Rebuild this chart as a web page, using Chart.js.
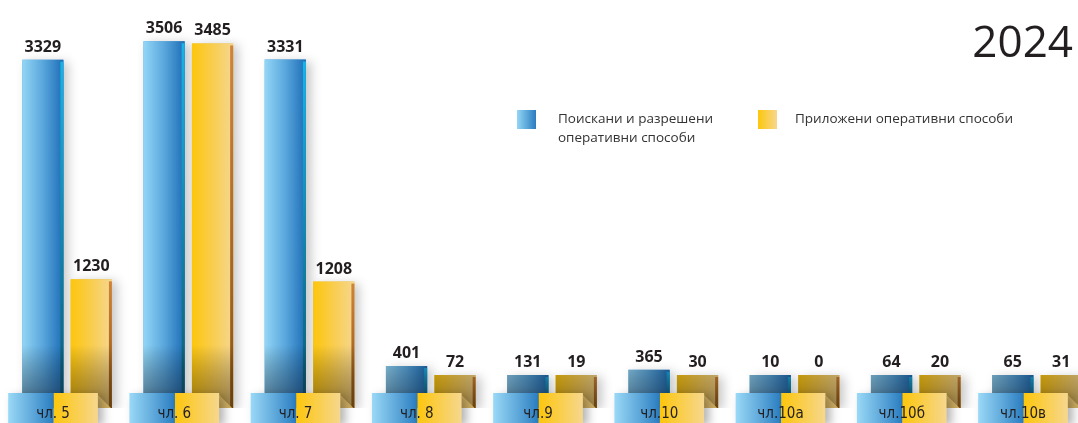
<!DOCTYPE html>
<html>
<head>
<meta charset="utf-8">
<script src="https://cdn.jsdelivr.net/npm/chart.js@4.4.1/dist/chart.umd.min.js"></script>
<style>
html,body{margin:0;padding:0;background:#ffffff;}
canvas{display:block;}
</style>
</head>
<body>
<canvas id="c" width="1078" height="423"></canvas>
<script>
// ---- data ----
const categories = ['чл. 5', 'чл. 6', 'чл. 7', 'чл. 8', 'чл.9', 'чл.10', 'чл.10а', 'чл.10б', 'чл.10в'];
const requested = [3329, 3506, 3331, 401, 131, 365, 10, 64, 65];
const applied = [1230, 3485, 1208, 72, 19, 30, 0, 20, 31];
const seriesNames = [['Поискани и разрешени', 'оперативни способи'], ['Приложени оперативни способи']];
const chartTitle = '2024';

const FONT = "'Open Sans', 'DejaVu Sans', sans-serif";
const TXT = '#231f20';

const palette = [
  { grad: ['#93d6f6', '#5aa7dd', '#1d6db6'], edgeTop: '#17b4ea', edgeBot: '#0c5a70', shade: 'rgba(25,40,60,0.55)' },
  { grad: ['#fdc60c', '#f9cd4e', '#f5d791'], edgeTop: '#d0843a', edgeBot: '#8f5210', shade: 'rgba(70,50,15,0.5)' }
];

const decorPlugin = {
  id: 'decor',
  afterDatasetsDraw(chart) {
    const ctx = chart.ctx;
    const area = chart.chartArea;
    const boxTop = 393, boxBot = 423;
    // bars
    chart.data.datasets.forEach((ds, di) => {
      const meta = chart.getDatasetMeta(di);
      const p = palette[di];
      meta.data.forEach((el) => {
        const w = el.width;
        const l = el.x - w / 2, r = l + w;
        const t = el.y;
        const b = Math.min(el.base, area.bottom);
        if (b - t <= 0) return;
        ctx.save();
        ctx.beginPath();
        ctx.rect(area.left, area.top, area.right - area.left, area.bottom - area.top);
        ctx.clip();
        ctx.shadowColor = 'rgba(0,0,0,0.22)';
        ctx.shadowBlur = 10;
        ctx.shadowOffsetX = 5;
        ctx.shadowOffsetY = 2;
        const g = ctx.createLinearGradient(l, 0, r, 0);
        g.addColorStop(0, p.grad[0]);
        g.addColorStop(0.5, p.grad[1]);
        g.addColorStop(1, p.grad[2]);
        ctx.fillStyle = g;
        ctx.fillRect(l, t, w, b - t);
        ctx.shadowColor = 'transparent';
        const eg = ctx.createLinearGradient(0, t, 0, b);
        eg.addColorStop(0, p.edgeTop);
        eg.addColorStop(1, p.edgeBot);
        ctx.fillStyle = eg;
        ctx.fillRect(r - 3, t + 2, 3, b - t - 2);
        const sg = ctx.createLinearGradient(0, 345, 0, boxTop + 10);
        sg.addColorStop(0, 'rgba(0,0,0,0)');
        sg.addColorStop(1, p.shade);
        ctx.fillStyle = sg;
        ctx.fillRect(l, Math.max(t, 345), w, b - Math.max(t, 345));
        ctx.restore();
      });
    });
    // value labels
    ctx.save();
    ctx.fillStyle = TXT;
    ctx.font = "bold 16px " + FONT;
    ctx.textAlign = 'center';
    ctx.textBaseline = 'alphabetic';
    chart.data.datasets.forEach((ds, di) => {
      const meta = chart.getDatasetMeta(di);
      meta.data.forEach((el, i) => {
        ctx.fillText(String(ds.data[i].y), el.x, el.y - 8);
      });
    });
    ctx.restore();
    // category boxes
    const m0 = chart.getDatasetMeta(0), m1 = chart.getDatasetMeta(1);
    categories.forEach((cat, i) => {
      const eB = m0.data[i], eY = m1.data[i];
      const w = eB.width;
      const bx0 = eB.x - w / 2 - 14;
      const split = eY.x - w / 2 - 17;
      const bx1 = eY.x + w / 2 - 14;
      ctx.save();
      ctx.fillStyle = '#cfae62';
      ctx.beginPath();
      ctx.moveTo(bx1, boxTop + 2);
      ctx.lineTo(bx1 + 13, area.bottom);
      ctx.lineTo(bx1, area.bottom);
      ctx.closePath();
      ctx.fill();
      ctx.shadowColor = 'rgba(0,0,0,0.3)';
      ctx.shadowBlur = 10;
      ctx.shadowOffsetX = 5;
      ctx.shadowOffsetY = 3;
      const gb = ctx.createLinearGradient(bx0, 0, split, 0);
      gb.addColorStop(0, '#9ad9f7');
      gb.addColorStop(1, '#2a7dc1');
      ctx.fillStyle = gb;
      ctx.fillRect(bx0, boxTop, split - bx0, boxBot - boxTop);
      const gy = ctx.createLinearGradient(split, 0, bx1, 0);
      gy.addColorStop(0, '#fdc60c');
      gy.addColorStop(1, '#f6d78e');
      ctx.fillStyle = gy;
      ctx.fillRect(split, boxTop, bx1 - split, boxBot - boxTop);
      ctx.shadowColor = 'transparent';
      ctx.fillStyle = TXT;
      ctx.font = "15px 'Liberation Sans Narrow', 'DejaVu Sans Condensed', " + FONT;
      ctx.textAlign = 'center';
      ctx.fillText(cat, (bx0 + bx1) / 2, 418);
      ctx.restore();
    });
    // legend
    const lx = [517, 758];
    ctx.save();
    seriesNames.forEach((name, di) => {
      const x = lx[di], y = 110;
      const g = ctx.createLinearGradient(x, 0, x + 19, 0);
      if (di === 0) { g.addColorStop(0, '#93d6f6'); g.addColorStop(1, '#2a7cc0'); }
      else { g.addColorStop(0, '#fdc60c'); g.addColorStop(1, '#f6d78e'); }
      ctx.fillStyle = g;
      ctx.fillRect(x, y, 19, 19);
      ctx.fillStyle = '#333333';
      ctx.font = "13.5px " + FONT;
      ctx.textAlign = 'left';
      name.forEach((line, k) => {
        ctx.fillText(line, x + (di === 0 ? 41 : 37), 123 + k * 19);
      });
    });
    ctx.fillStyle = TXT;
    ctx.font = "44px " + FONT;
    ctx.textAlign = 'right';
    ctx.fillText(chartTitle, 1073, 57);
    ctx.restore();
  }
};

new Chart(document.getElementById('c'), {
  type: 'bar',
  data: {
    datasets: [
      { label: seriesNames[0].join(' '), data: requested.map((v, i) => ({ x: i, y: v })), backgroundColor: '#5aa7dd' },
      { label: seriesNames[1].join(' '), data: applied.map((v, i) => ({ x: i, y: v })), backgroundColor: '#f9cd4e' }
    ]
  },
  options: {
    responsive: false,
    animation: false,
    events: [],
    layout: { padding: { left: 0, right: 0, top: 0, bottom: 15 } },
    datasets: { bar: { barPercentage: 0.85, categoryPercentage: 0.8, minBarLength: 33, borderWidth: 0 } },
    plugins: { legend: { display: false }, tooltip: { enabled: false }, title: { display: false } },
    scales: {
      x: {
        type: 'linear', min: -0.553, max: 8.338, display: false, offset: false,
        afterBuildTicks: (s) => { s.ticks = categories.map((_, i) => ({ value: i })); }
      },
      y: { min: 0, max: 3900, display: false }
    }
  },
  plugins: [decorPlugin]
});
</script>
</body>
</html>
